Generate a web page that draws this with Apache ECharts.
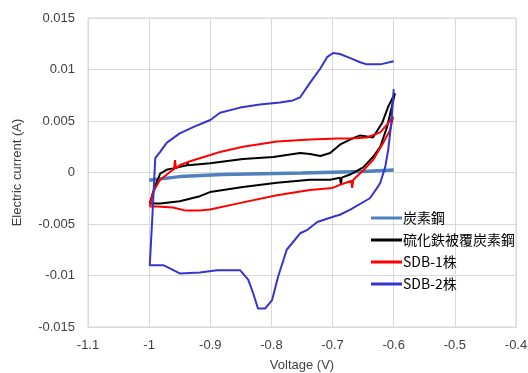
<!DOCTYPE html>
<html>
<head>
<meta charset="utf-8">
<script src="https://cdn.jsdelivr.net/npm/echarts@6/dist/echarts.min.js"></script>
<style>html,body{margin:0;padding:0;background:#fff;}#c{width:528px;height:373px;}</style>
</head>
<body>
<div id="c"></div>
<script>
var seriesNames = ['炭素鋼', '硫化鉄被覆炭素鋼', 'SDB-1株', 'SDB-2株'];
var xTicks = { min: -1.1, max: -0.4, interval: 0.1 };
var yTicks = { min: -0.015, max: 0.015, interval: 0.005 };

var steel = [[-1.0,-0.00075],[-0.95,-0.0004],[-0.88,-0.0002],[-0.75,-0.00005],[-0.65,0.0001],[-0.6,0.00025]];

var ironSulfide = [[-0.999,-0.0030],[-0.995,-0.0022],[-0.99,-0.0013],[-0.982,-0.0001],[-0.97,0.0003],[-0.961,0.0004],
  [-0.938,0.0007],[-0.937,0.0010],[-0.936,0.0007],[-0.9005,0.0009],[-0.8465,0.0013],[-0.797,0.0015],[-0.753,0.0019],
  [-0.737,0.0018],[-0.72,0.0016],[-0.704,0.0019],[-0.688,0.0027],[-0.6715,0.0032],[-0.655,0.0036],[-0.644,0.0035],
  [-0.634,0.0034],[-0.619,0.0048],[-0.609,0.0064],[-0.598,0.0077],
  [-0.603,0.0064],[-0.611,0.0044],[-0.622,0.0025],[-0.634,0.0015],[-0.65,0.0005],[-0.6715,-0.0002],[-0.685,-0.0005],
  [-0.6862,-0.0012],[-0.688,-0.0005],[-0.704,-0.0007],[-0.737,-0.0007],[-0.791,-0.0010],[-0.8465,-0.0014],
  [-0.9005,-0.0019],[-0.917,-0.0023],[-0.95,-0.0028],[-0.982,-0.0030],[-0.999,-0.0030]];

var sdb1 = [[-0.999,-0.0033],[-0.995,-0.0022],[-0.99,-0.0015],[-0.982,-0.0007],[-0.971,-0.0002],[-0.963,0.0002],
  [-0.9593,0.0003],[-0.9577,0.0012],[-0.956,0.0004],[-0.95,0.0007],[-0.933,0.0011],[-0.9,0.0017],[-0.884,0.0020],
  [-0.8465,0.0025],[-0.791,0.0030],[-0.737,0.0032],[-0.691,0.0033],[-0.6715,0.0033],[-0.644,0.0034],[-0.622,0.0039],
  [-0.609,0.0048],[-0.601,0.0054],
  [-0.606,0.0041],[-0.617,0.0029],[-0.634,0.0012],[-0.65,0.0002],[-0.666,-0.0007],[-0.668,-0.0015],[-0.669,-0.0008],
  [-0.688,-0.0012],[-0.70,-0.0015],[-0.737,-0.0017],[-0.791,-0.0022],[-0.8465,-0.0029],[-0.9005,-0.0036],
  [-0.917,-0.0037],[-0.94,-0.0037],[-0.961,-0.0034],[-0.987,-0.0033],[-0.999,-0.0033]];

var sdb2 = [[-0.6,0.0081],[-0.604,0.0048],[-0.609,0.0022],[-0.614,0.0005],[-0.622,-0.0010],[-0.626,-0.0014],
  [-0.639,-0.0025],[-0.671,-0.0036],[-0.688,-0.0041],[-0.699,-0.0043],[-0.725,-0.0048],[-0.742,-0.0056],
  [-0.753,-0.0059],[-0.775,-0.0075],[-0.789,-0.0101],[-0.799,-0.0124],[-0.81,-0.0132],[-0.822,-0.0132],
  [-0.83,-0.0117],[-0.838,-0.0104],[-0.851,-0.0095],[-0.889,-0.0095],[-0.917,-0.0097],[-0.95,-0.0098],
  [-0.966,-0.0093],[-0.977,-0.0090],[-0.999,-0.0090],[-0.995,-0.0046],[-0.99,0.0014],[-0.982,0.0020],
  [-0.971,0.0029],[-0.95,0.0038],[-0.928,0.0044],[-0.9,0.0051],[-0.884,0.0058],[-0.851,0.0063],[-0.819,0.0066],
  [-0.786,0.0068],[-0.765,0.0070],[-0.753,0.0073],[-0.737,0.0087],[-0.72,0.0101],[-0.709,0.0112],[-0.699,0.0116],
  [-0.688,0.0115],[-0.671,0.0111],[-0.655,0.0107],[-0.644,0.0105],[-0.622,0.0105],[-0.6,0.0108]];

var chart = echarts.init(document.getElementById('c'), null, {renderer: 'canvas'});
var labelFont = {color: '#404040', fontSize: 13, fontFamily: 'Liberation Sans, Arial, sans-serif'};
function mk(name, data, color, width) {
  return {name: name, type: 'line', data: data, showSymbol: false, symbol: 'none',
    lineStyle: {color: color, width: width}, itemStyle: {color: color}, animation: false, smooth: false, z: 2};
}
chart.setOption({
  animation: false,
  grid: {left: 88, right: 12, top: 18, bottom: 46, show: true, borderColor: '#d9d9d9', borderWidth: 1,
    containLabel: false, outerBoundsMode: 'none'},
  xAxis: {type: 'value', min: xTicks.min, max: xTicks.max, interval: xTicks.interval,
    name: 'Voltage (V)', nameLocation: 'middle', nameGap: 32,
    nameTextStyle: {color: '#404040', fontSize: 13, fontFamily: 'Liberation Sans, Arial, sans-serif'},
    axisLine: {show: true, onZero: false, lineStyle: {color: '#d9d9d9'}}, axisTick: {show: false},
    splitLine: {show: true, lineStyle: {color: '#d9d9d9', width: 1}},
    axisLabel: Object.assign({margin: 12, formatter: function(v){return String(Math.round(v*10)/10);}}, labelFont)},
  yAxis: {type: 'value', min: yTicks.min, max: yTicks.max, interval: yTicks.interval,
    name: 'Electric current (A)', nameLocation: 'middle', nameGap: 64,
    nameTextStyle: {color: '#404040', fontSize: 13, fontFamily: 'Liberation Sans, Arial, sans-serif'},
    axisLine: {show: true, lineStyle: {color: '#d9d9d9'}}, axisTick: {show: false},
    splitLine: {show: true, lineStyle: {color: '#d9d9d9', width: 1}},
    axisLabel: Object.assign({margin: 13, formatter: function(v){return String(Math.round(v*1000)/1000);}}, labelFont)},
  legend: {orient: 'vertical', left: 366, top: 206, itemWidth: 31, itemHeight: 3, itemGap: 8, icon: 'rect',
    data: seriesNames,
    textStyle: {color: '#000', fontSize: 14, padding: [0,0,0,-4], fontFamily: 'Noto Sans CJK JP, sans-serif'}},
  series: [
    mk(seriesNames[0], steel, '#4F81BD', 3.5),
    mk(seriesNames[1], ironSulfide, '#000000', 2),
    mk(seriesNames[2], sdb1, '#FF0000', 2),
    mk(seriesNames[3], sdb2, '#3535CC', 2)
  ]
});
</script>
</body>
</html>
